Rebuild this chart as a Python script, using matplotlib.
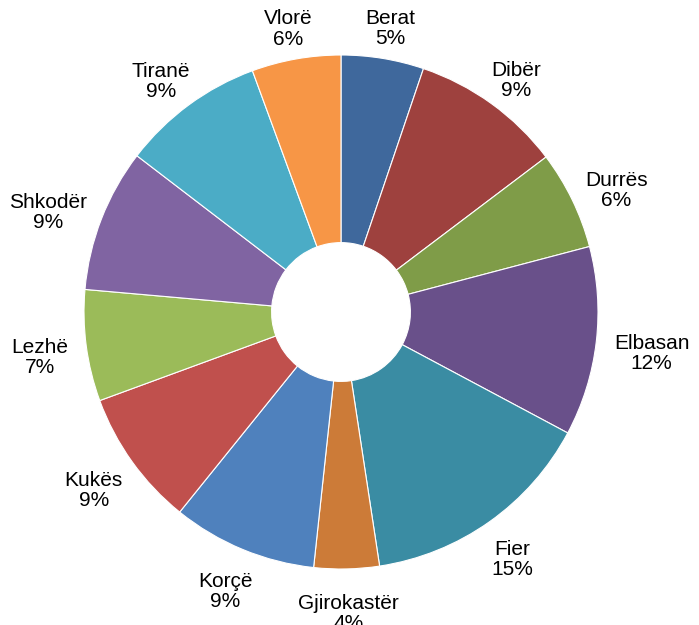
import numpy as np
import matplotlib
matplotlib.use("Agg")
import matplotlib.pyplot as plt

plt.rcParams["font.family"] = ["Liberation Sans", "DejaVu Sans"]

districts = ["Berat", "Dibër", "Durrës", "Elbasan", "Fier", "Gjirokastër",
             "Korçë", "Kukës", "Lezhë", "Shkodër", "Tiranë", "Vlorë"]
shares = [5.2, 9.5, 6.2, 11.9, 14.8, 4.1, 9.1, 8.6, 7.0, 9.0, 9.0, 5.6]
pct_labels = ["5%", "9%", "6%", "12%", "15%", "4%",
              "9%", "9%", "7%", "9%", "9%", "6%"]
colors = ["#3F689C", "#9E413E", "#7F9C48", "#69508A", "#3A8CA3", "#CC7B38",
          "#4F81BD", "#C0504D", "#9BBB59", "#8064A2", "#4BACC6", "#F79646"]

W, H = 699, 625
R_PX = 257          # pie radius in pixels
CX, CY = 341, 313   # pie centre, pixels from left / bottom

fig = plt.figure(figsize=(W / 100, H / 100), dpi=100)
ax = fig.add_axes([0, 0, 1, 1])

wedges, _ = ax.pie(
    shares, colors=colors, startangle=90, counterclock=False, radius=1,
    wedgeprops=dict(width=0.73, edgecolor="white", linewidth=0.8),
)
ax.set_xlim(-CX / R_PX, (W - CX) / R_PX)
ax.set_ylim(-CY / R_PX, (H - CY) / R_PX)
ax.set_aspect("auto")
ax.axis("off")

texts = []
for name, pct in zip(districts, pct_labels):
    t = ax.text(0, 0, f"{name}\n{pct}", ha="center", va="center",
                multialignment="center", fontsize=15, color="#000000",
                linespacing=1.08)
    texts.append(t)

# push each label box just outside the ring, along the wedge's mid angle
fig.canvas.draw()
renderer = fig.canvas.get_renderer()
r_anchor = 1.07
drop = 7 / R_PX
for w, t in zip(wedges, texts):
    mid = np.deg2rad((w.theta1 + w.theta2) / 2)
    bb = t.get_window_extent(renderer)
    hw = bb.width / 2 / R_PX
    hh = bb.height / 2 / R_PX
    x = r_anchor * np.cos(mid) + hw * np.cos(mid)
    y = r_anchor * np.sin(mid) + hh * np.sin(mid) - drop
    t.set_position((x, y))

fig.savefig("out.png", dpi=100)
